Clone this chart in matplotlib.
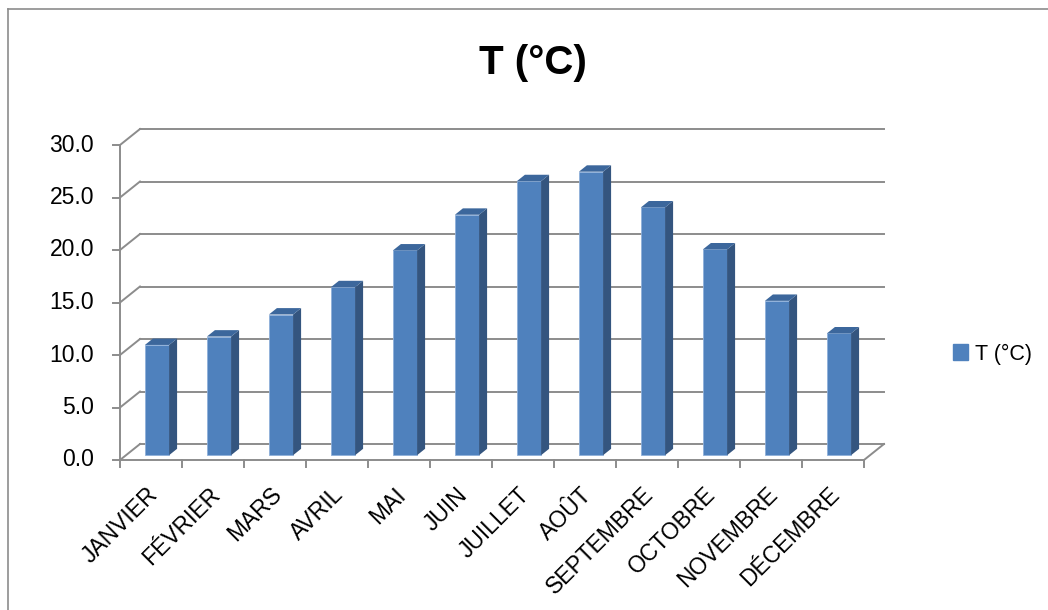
import numpy as np
import matplotlib.pyplot as plt
from matplotlib.patches import Polygon, Patch
from matplotlib.lines import Line2D

months = ['JANVIER', 'FÉVRIER', 'MARS', 'AVRIL', 'MAI', 'JUIN',
          'JUILLET', 'AOÛT', 'SEPTEMBRE', 'OCTOBRE', 'NOVEMBRE', 'DÉCEMBRE']
temps = [10.5, 11.3, 13.4, 16.0, 19.5, 22.9, 26.1, 27.0, 23.6, 19.6, 14.7, 11.6]
y_ticks = [0, 5, 10, 15, 20, 25, 30]

plt.rcParams['font.family'] = ['Liberation Sans', 'DejaVu Sans']

W, H = 1048, 610
fig = plt.figure(figsize=(W / 100, H / 100), dpi=100)
ax = fig.add_axes([0, 0, 1, 1])
# one category = 62 px, one degree = 10.5 px, origin of the floor front corner at (120, 460)
ax.set_xlim(-120 / 62, (W - 120) / 62)
ax.set_ylim(-(H - 460) / 10.5, 460 / 10.5)
ax.axis('off')

grid = '#8c8c8c'
front = '#4f81bd'
side = '#34557f'
top = '#3c679c'

DX, DY = 20 / 62, 16 / 10.5   # depth of the 3d box
n = len(months)

# back wall gridlines and side wall diagonals
for v in y_ticks:
    ax.plot([DX, n + DX], [v + DY, v + DY], color=grid, lw=1.4, zorder=1)
    ax.plot([0, DX], [v, v + DY], color=grid, lw=1.4, zorder=1)
    ax.plot([-0.11, 0], [v, v], color=grid, lw=1.4, zorder=1)
    ax.text(-0.42, v, f'{v:.1f}', ha='right', va='center', fontsize=16.5)

# floor edges and front axis
ax.plot([0, 0], [0, y_ticks[-1]], color=grid, lw=1.4, zorder=1)
ax.plot([0, n], [0, 0], color=grid, lw=1.4, zorder=4)
ax.plot([n, n + DX], [0, DY], color=grid, lw=1.4, zorder=4)
for i in range(n + 1):
    ax.plot([i, i], [0, -0.7], color=grid, lw=1.4, zorder=4)

# 3d columns: front face, right side, top
f0, bd, bw = 0.3, 0.4, 0.39
pos = np.arange(n) + 0.5 + f0 * DX
base = f0 * DY
ax.bar(pos, temps, width=bw, bottom=base, color=front,
       edgecolor='#8fb0da', linewidth=0.6, zorder=3)
for x, t in zip(pos, temps):
    r, l = x + bw / 2, x - bw / 2
    ddx, ddy = bd * DX, bd * DY
    ax.add_patch(Polygon([(r, base), (r + ddx, base + ddy), (r + ddx, base + t + ddy), (r, base + t)],
                         closed=True, facecolor=side, edgecolor='none', zorder=3))
    ax.add_patch(Polygon([(l, base + t), (r, base + t), (r + ddx, base + t + ddy), (l + ddx, base + t + ddy)],
                         closed=True, facecolor=top, edgecolor='none', zorder=3))

# category labels
for i, m in enumerate(months):
    ax.text(i + 0.42, -2.2, m, rotation=45, ha='right', va='top',
            rotation_mode='anchor', fontsize=16.5)

ax.text(533 / 62 - 120 / 62, (460 - 63) / 10.5, 'T (°C)', ha='center', va='center',
        fontsize=29, fontweight='bold')

ax.legend(handles=[Patch(color=front, label='T (°C)')], loc='center left',
          bbox_to_anchor=(934 / W, 1 - 354 / H), frameon=False, fontsize=15.5,
          handlelength=0.7, handleheight=0.7, handletextpad=0.3)

# chart area border
fig.add_artist(Line2D([8 / W, 8 / W], [0, 1 - 9 / H], color='#8c8c8c', lw=1.2))
fig.add_artist(Line2D([8 / W, 1], [1 - 9 / H, 1 - 9 / H], color='#8c8c8c', lw=1.2))

fig.savefig('out.png', dpi=100)
